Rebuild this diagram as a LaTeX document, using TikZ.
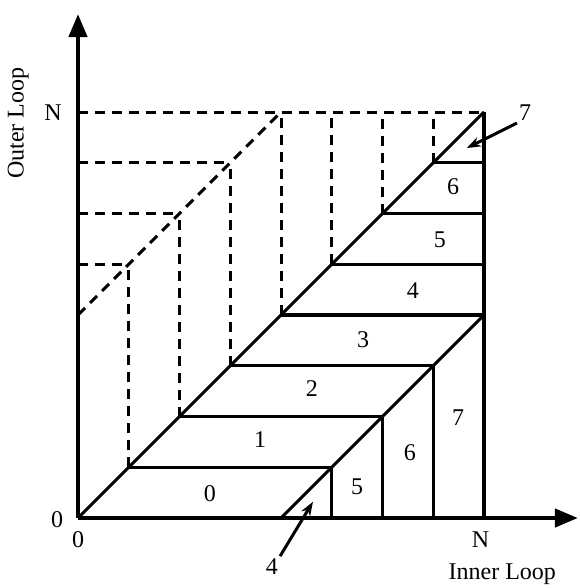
\documentclass[tikz,border=0pt]{standalone}
\usepackage{fontspec}
\setmainfont{Liberation Serif}
\usetikzlibrary{arrows.meta}

\begin{document}
\begin{tikzpicture}[x=50.75bp, y=50.75bp]
    % Define styles for the lines and labels
    \tikzstyle{axis} = [line width=4.2bp, -{Triangle[length=23bp, width=18bp]}]
    \tikzstyle{edge} = [line width=3.1bp]
    \tikzstyle{guide} = [line width=3bp, dash pattern=on 10bp off 7bp]
    \tikzstyle{pointer} = [line width=3bp, -{Stealth[length=14bp, width=10bp]}]
    \tikzstyle{lbl} = [font=\fontsize{24bp}{28bp}\selectfont, inner sep=2bp]

    \useasboundingbox (-1.537,-1.379) rectangle (9.872,10.207);

    % Corner points
    \coordinate (origin) at (0,0);
    \coordinate (x_end) at (9.85,0);
    \coordinate (y_end) at (0,9.93);
    \coordinate (top) at (8,8);

    % Dashed guides above the diagonal
    \draw[guide] (0,4) -- (4,8);
    \draw[guide] (0,8) -- (top);
    \draw[guide] (0,7) -- (3,7);
    \draw[guide] (0,6) -- (2,6);
    \draw[guide] (0,5) -- (1,5);
    \draw[guide] (1,1) -- (1,5);
    \draw[guide] (2,2) -- (2,6);
    \draw[guide] (3,3) -- (3,7);
    \draw[guide] (4,4) -- (4,8);
    \draw[guide] (5,5) -- (5,8);
    \draw[guide] (6,6) -- (6,8);
    \draw[guide] (7,7) -- (7,8);

    % Diagonals and the right edge
    \draw[edge] (origin) -- (top);
    \draw[edge] (4,0) -- (8,4);
    \draw[edge] (8,0) -- (top);

    % Horizontal cuts
    \draw[edge] (1,1) -- (5,1);
    \draw[edge] (2,2) -- (6,2);
    \draw[edge] (3,3) -- (7,3);
    \draw[edge] (4,4) -- (8,4);
    \draw[edge] (5,5) -- (8,5);
    \draw[edge] (6,6) -- (8,6);
    \draw[edge] (7,7) -- (8,7);

    % Vertical cuts
    \draw[edge] (5,0) -- (5,1);
    \draw[edge] (6,0) -- (6,2);
    \draw[edge] (7,0) -- (7,3);

    % Axes
    \draw[axis] (origin) -- (x_end);
    \draw[axis] (origin) -- (y_end);

    % Axis labels
    \node[lbl] (zero_y) at (-0.41,-0.04) {0};
    \node[lbl] (zero_x) at (0,-0.43) {0};
    \node[lbl] (n_x) at (7.93,-0.43) {N};
    \node[lbl] (n_y) at (-0.49,7.98) {N};
    \node[lbl] (inner_loop) at (8.36,-1.10) {Inner Loop};
    \node[lbl, rotate=90] (outer_loop) at (-1.18,7.78) {Outer Loop};

    % Block numbers
    \node[lbl] (blk0) at (2.60,0.49) {0};
    \node[lbl] (blk1) at (3.59,1.54) {1};
    \node[lbl] (blk2) at (4.61,2.56) {2};
    \node[lbl] (blk3) at (5.62,3.51) {3};
    \node[lbl] (blk4) at (6.60,4.49) {4};
    \node[lbl] (blk5) at (7.13,5.48) {5};
    \node[lbl] (blk6) at (7.39,6.52) {6};
    \node[lbl] (blk5b) at (5.50,0.61) {5};
    \node[lbl] (blk6b) at (6.54,1.28) {6};
    \node[lbl] (blk7b) at (7.49,1.97) {7};

    % Pointers to the small triangles
    \node[lbl] (blk7) at (8.81,7.98) {7};
    \coordinate (tip7) at (7.66,7.29);
    \draw[pointer] (blk7.south west) -- (tip7);

    \node[lbl] (blk4b) at (3.82,-0.95) {4};
    \coordinate (tip4) at (4.63,0.32);
    \draw[pointer] (blk4b.north east) -- (tip4);

\end{tikzpicture}
\end{document}
